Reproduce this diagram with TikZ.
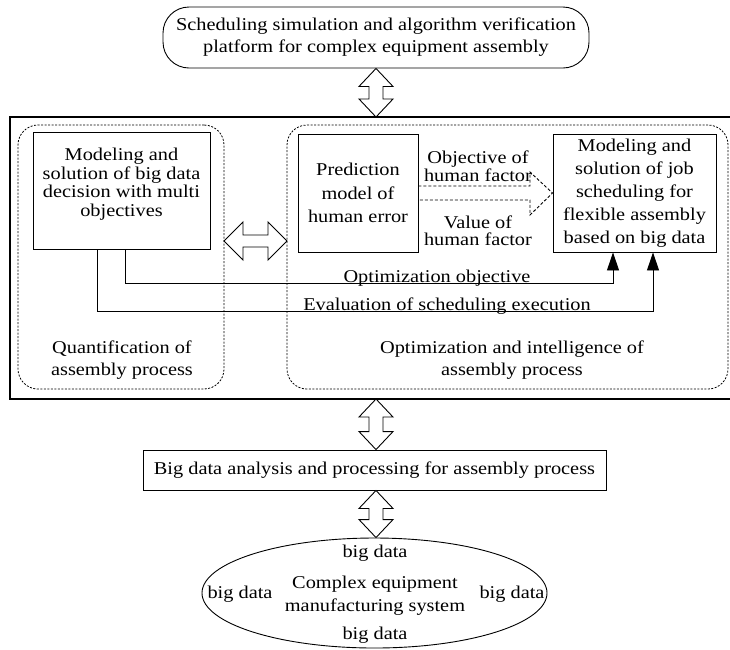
\documentclass[tikz,border=0pt]{standalone}
\usepackage{fontspec}
\setmainfont[FakeStretch=1.13]{Liberation Serif}
\usetikzlibrary{calc,arrows.meta,shapes.geometric}
\tikzset{
  box/.style={draw,line width=0.9pt,minimum width=#1,inner sep=0pt,align=center},
  grp/.style={draw,line width=0.8pt,dash pattern=on 2pt off 1.5pt,rounded corners=20pt},
  txt/.style={inner sep=0pt,align=center},
  link/.style={line width=0.9pt,-{Triangle[length=18pt,width=12pt]}},
  dblarrow/.style={draw,line width=0.9pt,fill=white},
}
\newcommand\vdarrow[2]{\path[dblarrow] (#1) -- ++(17,18) -- ++(-10,0) -- ($(#2)+(7,-18)$) -- ++(10,0) -- (#2) -- ++(-17,-18) -- ++(10,0) -- ($(#1)+(-7,18)$) -- ++(-10,0) -- cycle;}
\begin{document}
\begin{tikzpicture}[x=1pt,y=-1pt,font=\fontsize{18}{21}\selectfont]
\useasboundingbox (0,0) rectangle (730,649);
% top platform
\node[box=426pt,minimum height=61pt,rounded corners=26pt,font=\fontsize{18}{22}\selectfont] (top) at (376,37.5)
  {Scheduling simulation and algorithm verification\\platform for complex equipment assembly};
% frame
\coordinate (ftop) at (376,117);
\coordinate (fbot) at (376,399);
\draw[line width=1.3pt] (731,117) -- (10,117) -- (10,399) -- (731,399);
% groups
\node[grp,minimum width=206pt,minimum height=264pt,inner sep=0pt] (lg) at (121,257) {};
\node[grp,minimum width=441pt,minimum height=264pt,inner sep=0pt] (rg) at (507.5,257) {};
% boxes
\node[box=177pt,minimum height=117pt] (lb) at (121.5,190.5) {};
\node[txt,font=\fontsize{18}{18.5}\selectfont] (lbt) at (121.5,184) {Modeling and\\solution of big data\\decision with multi\\objectives};
\node[box=120pt,minimum height=118pt,font=\fontsize{18}{23.5}\selectfont] (pb) at (358,193) {Prediction\\model of\\human error};
\node[box=163pt,minimum height=118pt,font=\fontsize{18}{23}\selectfont] (rb) at (634.5,193) {Modeling and\\solution of job\\scheduling for\\flexible assembly\\based on big data};
% horizontal double arrow
\coordinate (ha) at (224,241);
\coordinate (hb) at (287,241);
\path[dblarrow] (ha) -- ++(19,-19) -- ++(0,13) -- ($(hb)+(-19,-6)$) -- ++(0,-13) -- (hb) -- ++(-19,19) -- ++(0,-13) -- ($(ha)+(19,6)$) -- ++(0,13) -- cycle;
% dashed hollow arrow
\draw[line width=0.9pt,dash pattern=on 3pt off 2pt] (pb.east |- 0,186) -- (530,186) -- (530,172) -- (rb.west) -- (530,215) -- (530,200) -- (pb.east |- 0,200);
\node[txt,font=\fontsize{18}{15}\selectfont] (obj) at (478,166) {Objective of\\human factor};
\node[txt,font=\fontsize{18}{17}\selectfont] (val) at (478,231) {Value of\\human factor};
% solid links
\draw[link] (lb.south -| 125,0) |- (613,283) -- (rb.south -| 613,0);
\draw[link] (lb.south -| 97,0) |- (653,311) -- (rb.south -| 653,0);
\node[txt,anchor=base] (oo) at (437,282) {Optimization objective};
\node[txt,anchor=base] (ev) at (447,310) {Evaluation of scheduling execution};
% group labels
\node[txt,font=\fontsize{18}{22}\selectfont] (lgt) at (122,360) {Quantification of\\assembly process};
\node[txt,font=\fontsize{18}{22}\selectfont] (rgt) at (512,360) {Optimization and intelligence of\\assembly process};
% big data box
\node[box=463pt,minimum height=40pt] (bd) at (374.5,470) {Big data analysis and processing for assembly process};
% ellipse
\node[draw,ellipse,line width=0.9pt,minimum width=345pt,minimum height=110pt,inner sep=0pt] (el) at (374.5,593) {};
\node[txt,font=\fontsize{18}{23}\selectfont] (elt) at (375,596) {Complex equipment\\manufacturing system};
\node[txt] (bd1) at (375,553) {big data};
\node[txt] (bd2) at (240,594) {big data};
\node[txt] (bd3) at (512,594) {big data};
\node[txt] (bd4) at (375,635) {big data};
% vertical double arrows
\vdarrow{top.south}{ftop}
\vdarrow{fbot}{bd.north -| fbot}
\coordinate (bdb) at (bd.south -| fbot);
\vdarrow{bdb}{el.north -| fbot}
\end{tikzpicture}
\end{document}
